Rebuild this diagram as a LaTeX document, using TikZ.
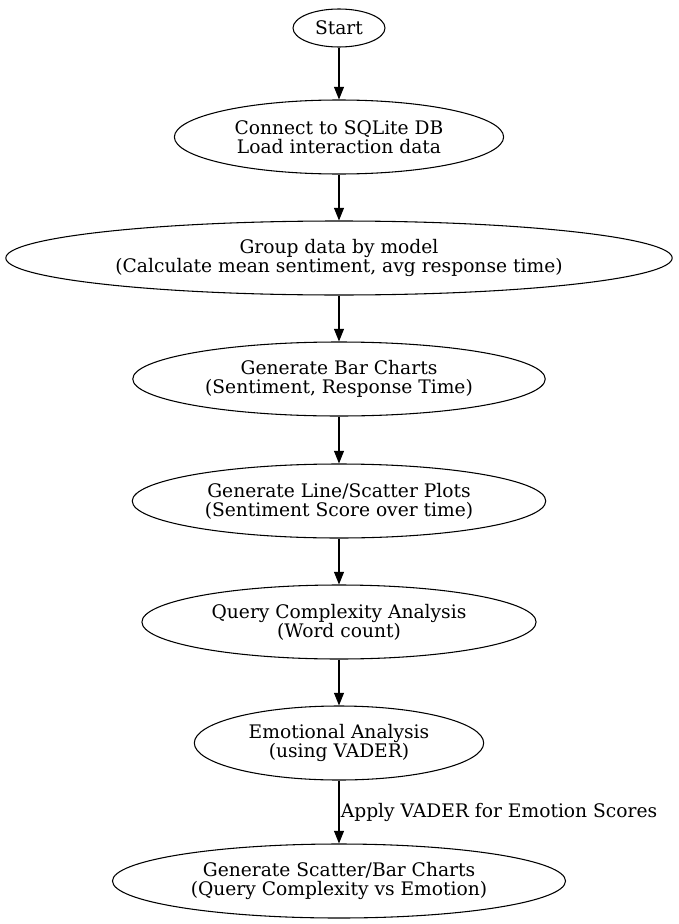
\documentclass[tikz,border=0pt]{standalone}
\usepackage{fontspec}
\setmainfont{DejaVu Serif}
\usetikzlibrary{arrows.meta, shapes.geometric}

\tikzset{
  stepnode/.style={draw, ellipse, line width=0.8pt, font=\fontsize{14}{14.2}\selectfont,
    align=center, inner xsep=9pt, inner ysep=0pt, minimum height=55.5pt},
  startnode/.style={stepnode, inner xsep=3pt, minimum height=28.5pt, minimum width=69pt},
  flow/.style={->, line width=0.8pt},
}

\begin{document}
\begin{tikzpicture}[>={Triangle[length=9.5pt,width=7.5pt]}, x=0.75pt, y=-0.75pt]
        \useasboundingbox (0, 0) rectangle (678, 924);
        \node[startnode] (start) at (339, 28) {Start};
        \node[stepnode] (load) at (339, 137) {Connect to SQLite DB\\Load interaction data};
        \node[stepnode] (group) at (339, 258) {Group data by model\\(Calculate mean sentiment, avg response time)};
        \node[stepnode] (bar) at (339, 379) {Generate Bar Charts\\(Sentiment, Response Time)};
        \node[stepnode] (line) at (339, 501) {Generate Line/Scatter Plots\\(Sentiment Score over time)};
        \node[stepnode] (query) at (339, 622) {Query Complexity Analysis\\(Word count)};
        \node[stepnode] (emo) at (339, 743) {Emotional Analysis\\(using VADER)};
        \node[stepnode] (scatter) at (339, 881) {Generate Scatter/Bar Charts\\(Query Complexity vs Emotion)};
        \draw[flow] (start) -- (load);
        \draw[flow] (load) -- (group);
        \draw[flow] (group) -- (bar);
        \draw[flow] (bar) -- (line);
        \draw[flow] (line) -- (query);
        \draw[flow] (query) -- (emo);
        \draw[flow] (emo) -- (scatter)
          node[midway, right, inner sep=0pt, xshift=1pt, font=\fontsize{14}{14.2}\selectfont] (vader) {Apply VADER for Emotion Scores};
      \end{tikzpicture}
\end{document}
